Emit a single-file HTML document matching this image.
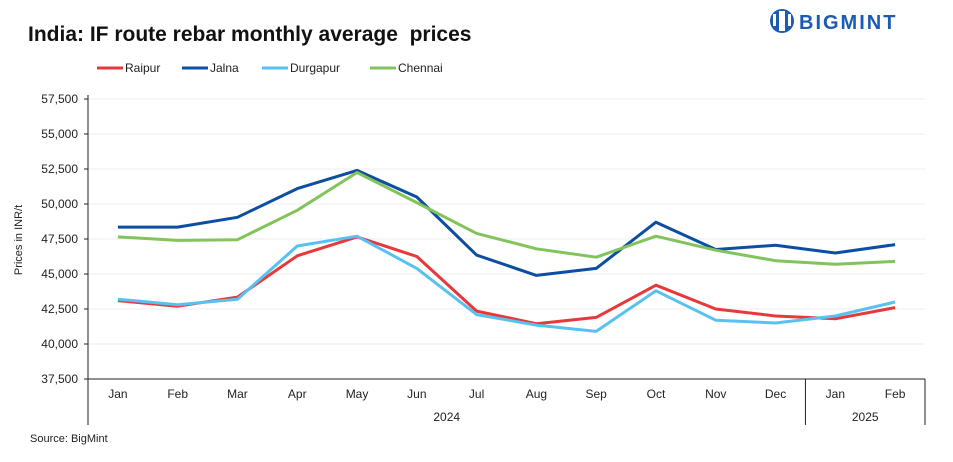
<!DOCTYPE html>
<html><head><meta charset="utf-8"><style>
body{margin:0;background:#fff;width:953px;height:457px;overflow:hidden;font-family:"Liberation Sans",Arial,sans-serif;}
svg text{font-family:"Liberation Sans",Arial,sans-serif;}
</style></head><body>
<svg id="c" width="953" height="457">
<text x="28" y="41" font-size="21" font-weight="bold" fill="#111" xml:space="preserve" style="white-space:pre">India: IF route rebar monthly average  prices</text>
<g>
<circle cx="782" cy="21" r="12" fill="#1a5bb5"/>
<rect x="779" y="11" width="6" height="20" fill="#fff"/>
<rect x="773" y="14" width="3" height="12" fill="#fff"/>
<rect x="788" y="14" width="3" height="12" fill="#fff"/>
<text x="799" y="29" font-size="20" font-weight="bold" fill="#1a5bb5" letter-spacing="2">BIGMINT</text>
</g>
<g id="legend"></g>
<text transform="translate(22,240) rotate(-90)" text-anchor="middle" font-size="11" fill="#222">Prices in INR/t</text>
<g id="grid"></g><g id="lines"></g><g id="axes"></g>
<text x="30" y="442" font-size="11" fill="#222">Source: BigMint</text>
</svg>
<script>
const categories=["Jan","Feb","Mar","Apr","May","Jun","Jul","Aug","Sep","Oct","Nov","Dec","Jan","Feb"];
const years=["2024","2025"];
const yTicks=[37500,40000,42500,45000,47500,50000,52500,55000,57500];
const seriesNames=["Raipur","Jalna","Durgapur","Chennai"];
const seriesColors=["#e8383b","#0b4ea2","#57c2f0","#82c35b"];
const raipur=[43100,42700,43350,46300,47650,46250,42350,41450,41900,44200,42500,42000,41800,42600];
const jalna=[48350,48350,49050,51100,52400,50500,46350,44900,45400,48700,46750,47050,46500,47100];
const durgapur=[43200,42800,43200,47000,47700,45400,42100,41350,40900,43800,41700,41500,42000,43000];
const chennai=[47650,47400,47450,49550,52250,50100,47900,46800,46200,47700,46700,45950,45700,45900];
const seriesData=[raipur,jalna,durgapur,chennai];
const NS="http://www.w3.org/2000/svg";
const X0=88,X1=925,Y0=379,Y1=99,YMIN=37500,YMAX=57500;
const bw=(X1-X0)/categories.length;
const xs=i=>X0+bw*(i+0.5);
const ys=v=>Y0-(v-YMIN)/(YMAX-YMIN)*(Y0-Y1);
function mk(t,a,p){const e=document.createElementNS(NS,t);for(const k in a)e.setAttribute(k,a[k]);p.appendChild(e);return e;}
const grid=document.getElementById('grid'),axes=document.getElementById('axes'),lines=document.getElementById('lines'),leg=document.getElementById('legend');
yTicks.forEach(v=>{
 const y=ys(v);
 const g=mk('line',{x1:X0,x2:X1,y1:y,y2:y,stroke:'#ececec','stroke-width':1},grid);
 
 
 mk('line',{x1:X0-4,x2:X0,y1:y,y2:y,stroke:'#222'},axes);
 const t=mk('text',{x:X0-10,y:y+4,'text-anchor':'end','font-size':12,fill:'#222'},axes);
 t.textContent=v.toLocaleString('en-US');
 
 
});
mk('line',{x1:X0,x2:X0,y1:Y1-4,y2:425,stroke:'#222'},axes);
mk('line',{x1:X0,x2:X1,y1:Y0,y2:Y0,stroke:'#222'},axes);
mk('line',{x1:X1,x2:X1,y1:Y0,y2:425,stroke:'#222'},axes);
mk('line',{x1:X0+bw*12,x2:X0+bw*12,y1:Y0,y2:425,stroke:'#222'},axes);
categories.forEach((c,i)=>{
 const t=mk('text',{x:xs(i),y:398,'text-anchor':'middle','font-size':12,fill:'#222'},axes);
 t.textContent=c;
 
 
});
[[0,12],[12,14]].forEach((r,k)=>{
 const t=mk('text',{x:X0+bw*(r[0]+r[1])/2,y:421,'text-anchor':'middle','font-size':12,fill:'#222'},axes);
 t.textContent=years[k];
 
 
});
seriesData.forEach((d,s)=>{
 const p=mk('polyline',{points:d.map((v,i)=>xs(i)+','+ys(v)).join(' '),fill:'none',stroke:seriesColors[s],'stroke-width':3,'stroke-linejoin':'round'},lines);
 
 
});
const lx=[97,182,262,370];
seriesNames.forEach((n,s)=>{
 const g=mk('g',{},leg);
 
 
 mk('line',{x1:lx[s],x2:lx[s]+26,y1:68,y2:68,stroke:seriesColors[s],'stroke-width':3},g);
 const t=mk('text',{x:lx[s]+28,y:72,'font-size':12,fill:'#222'},g);
 t.textContent=n;
});
</script>
</body></html>
